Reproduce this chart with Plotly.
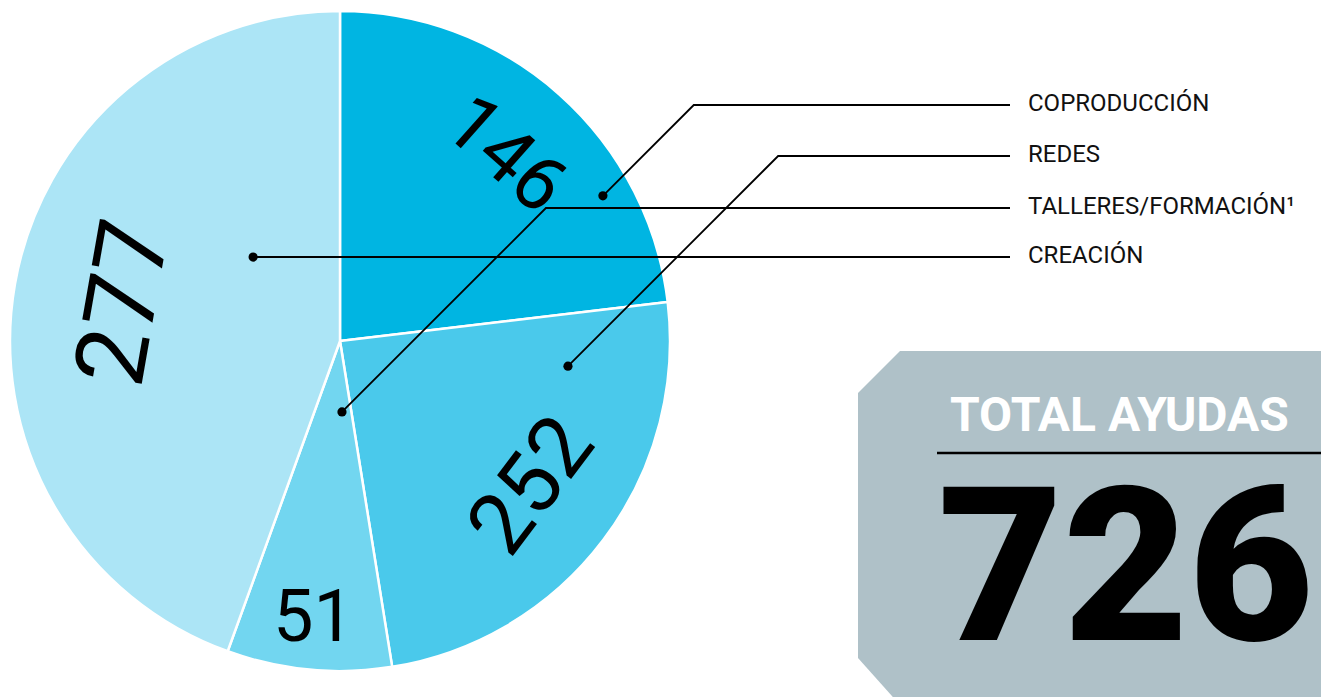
import math
import plotly.graph_objects as go

# ---------------- data ----------------
categorias = ["COPRODUCCIÓN", "REDES", "TALLERES/FORMACIÓN¹", "CREACIÓN"]
ayudas = [146, 252, 51, 277]
# angular size of each sector as drawn in the reference (degrees)
sector_grados = [83.2, 87.7, 29.0, 160.1]
total_titulo = "TOTAL AYUDAS"
total_ayudas = 726

# ---------------- style ----------------
colores = ["#00b5e2", "#4ac9eb", "#72d6f0", "#ace5f6"]
W, H = 1321, 697
CX, CY, R = 340, 341, 330           # pie centre / radius (px)
FONT = "Roboto"

label_size = [78, 86, 72, 98]
label_rfrac = [0.76, 0.72, 0.84, 0.67]
label_orient = ["tangential", "tangential", "horizontal", "tangential"]

# leader lines: dot placed in each sector (angle deg from 12 o'clock, radius fraction)
dot_angle = [61.1, 96.3, 178.4, 314.0]
dot_rfrac = [0.91, 0.695, 0.215, 0.366]
leyenda_y = [105, 156, 208, 257]     # px rows of the legend texts
line_end_x = 1010
legend_x = 1026


def px(x):
    return x / W


def py(y):
    return 1 - y / H


def polar(angle_deg, rfrac):
    a = math.radians(angle_deg)
    return CX + rfrac * R * math.sin(a), CY - rfrac * R * math.cos(a)


fig = go.Figure(go.Pie(
    values=sector_grados,
    labels=categorias,
    sort=False,
    direction="clockwise",
    rotation=0,
    marker=dict(colors=colores, line=dict(color="white", width=2.5)),
    textinfo="none",
    hoverinfo="skip",
    showlegend=False,
    domain=dict(x=[px(CX - R), px(CX + R)], y=[py(CY + R), py(CY - R)]),
))

annotations = []
shapes = []

# ---- value labels inside sectors ----
total_deg = sum(sector_grados)
acc = 0.0
for val, deg, size, rf, orient in zip(ayudas, sector_grados, label_size, label_rfrac, label_orient):
    mid = (acc + deg / 2) / total_deg * 360
    acc += deg
    x, y = polar(mid, rf)
    if orient == "tangential":
        rot = mid
        if 90 < mid < 270:
            rot = mid - 180
        elif mid >= 270:
            rot = mid - 360
    else:
        rot = 0
    annotations.append(dict(
        x=px(x), y=py(y), xref="paper", yref="paper", showarrow=False,
        text=str(val), textangle=rot, xanchor="center", yanchor="middle",
        font=dict(family=FONT, size=size, color="black", weight=400),
    ))

# ---- leader lines + legend texts ----
for cat, a, rf, ly in zip(categorias, dot_angle, dot_rfrac, leyenda_y):
    dx, dy = polar(a, rf)
    ex = dx + (dy - ly)          # 45 degree rise to legend row
    path = f"M {px(dx)},{py(dy)} L {px(ex)},{py(ly)} L {px(line_end_x)},{py(ly)}"
    shapes.append(dict(type="path", path=path, xref="paper", yref="paper",
                       line=dict(color="black", width=1.8)))
    rd = 4.6
    shapes.append(dict(type="circle", xref="paper", yref="paper",
                       x0=px(dx - rd), x1=px(dx + rd), y0=py(dy + rd), y1=py(dy - rd),
                       fillcolor="black", line=dict(width=0)))
    annotations.append(dict(
        x=px(legend_x), y=py(ly - 2), xref="paper", yref="paper", showarrow=False,
        text=cat, xanchor="left", yanchor="middle",
        font=dict(family=FONT, size=24, color="#111111"),
    ))

# ---- total box ----
box = [(858, 393), (900, 351), (1330, 351), (1330, 705), (900, 705), (858, 658)]
box_path = "M " + " L ".join(f"{px(x)},{py(y)}" for x, y in box) + " Z"
shapes.append(dict(type="path", path=box_path, xref="paper", yref="paper",
                   fillcolor="#afc1c8", line=dict(width=0), layer="below"))
shapes.append(dict(type="line", xref="paper", yref="paper",
                   x0=px(937), x1=px(1330), y0=py(453), y1=py(453),
                   line=dict(color="black", width=2.5)))
annotations.append(dict(
    x=px(1119), y=py(414), xref="paper", yref="paper", showarrow=False,
    text=total_titulo, xanchor="center", yanchor="middle",
    font=dict(family=FONT, size=48, color="white", weight=700),
))
annotations.append(dict(
    x=px(1126), y=py(566), xref="paper", yref="paper", showarrow=False,
    text=str(total_ayudas), xanchor="center", yanchor="middle",
    font=dict(family=FONT, size=216, color="black", weight=900),
))

fig.update_layout(
    width=W, height=H,
    margin=dict(l=0, r=0, t=0, b=0),
    paper_bgcolor="white", plot_bgcolor="white",
    annotations=annotations, shapes=shapes,
)

fig.write_html("out.html", config={"displayModeBar": False},
               post_script="document.body.style.margin='0';document.body.style.overflow='hidden';")
